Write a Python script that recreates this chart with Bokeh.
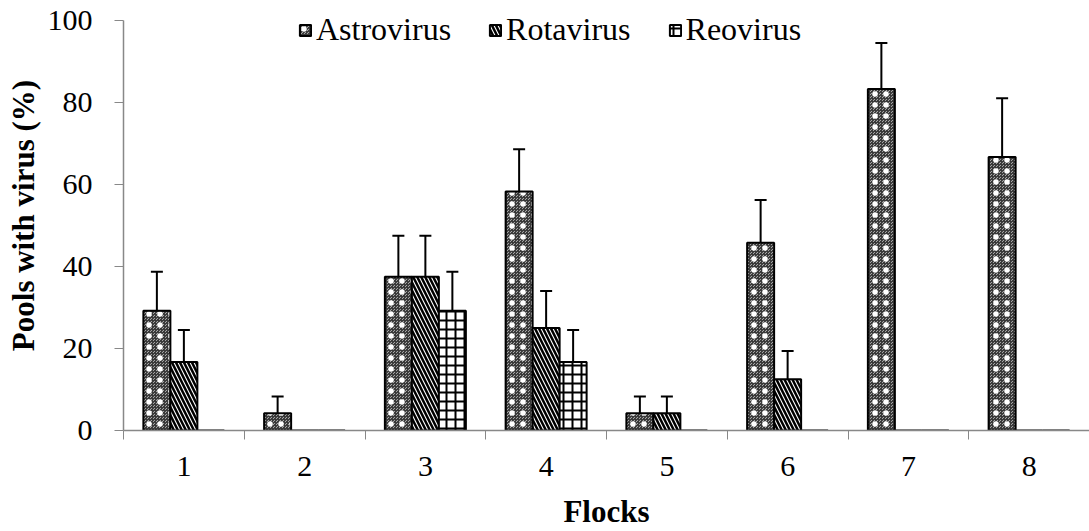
from bokeh.plotting import figure
from bokeh.models import ColumnDataSource, FixedTicker, Range1d, Whisker, TeeHead, Legend, LegendItem
from bokeh.embed import file_html
from bokeh.resources import INLINE

flocks = ["1", "2", "3", "4", "5", "6", "7", "8"]
astro = [29.2, 4.2, 37.5, 58.3, 4.2, 45.8, 83.3, 66.7]
astro_err = [9.5, 4.1, 10.0, 10.3, 4.1, 10.4, 11.2, 14.3]
rota = [16.7, 0, 37.5, 25.0, 4.2, 12.5, 0, 0]
rota_err = [7.8, 0, 10.0, 9.0, 4.1, 6.9, 0, 0]
reo = [0, 0, 29.2, 16.7, 0, 0, 0, 0]
reo_err = [0, 0, 9.5, 7.8, 0, 0, 0, 0]
series = ["Astrovirus", "Rotavirus", "Reovirus"]
y_ticks = [0, 20, 40, 60, 80, 100]

FONT = "Liberation Serif"
W = 0.2236

p = figure(width=1089, height=531, output_backend="svg", toolbar_location=None,
           x_range=Range1d(0.5, 8.5), y_range=Range1d(0, 104.87),
           min_border_left=123, min_border_right=0, min_border_top=0, min_border_bottom=100)
p.outline_line_color = None
p.grid.grid_line_color = None
p.background_fill_color = "white"

xs = list(range(1, len(flocks) + 1))
styles = [
    [dict(fill_color="#a6a6a6", hatch_pattern="criss_cross", hatch_color="#3a3a3a", hatch_scale=3, hatch_weight=1),
     dict(fill_alpha=0, hatch_pattern="dot", hatch_color="white", hatch_scale=11, hatch_weight=1)],
    [dict(fill_color="white", hatch_pattern="left_diagonal_line", hatch_color="black", hatch_scale=8, hatch_weight=2.5)],
    [dict(fill_color="white", hatch_pattern="cross", hatch_color="black", hatch_scale=9, hatch_weight=2)],
]
offsets = [-W, 0, W]
items = []
for vals, errs, name, sts, off in zip([astro, rota, reo], [astro_err, rota_err, reo_err], series, styles, offsets):
    src = ColumnDataSource(dict(x=[x + off for x in xs], top=vals))
    rs = []
    for i, st in enumerate(sts):
        lc = "black" if i == len(sts) - 1 else None
        rs.append(p.vbar(x="x", top="top", bottom=0, width=W, source=src, line_color=lc, line_width=2, **st))
    items.append(LegendItem(label=name, renderers=rs))
    esrc = ColumnDataSource(dict(x=[x + off for x, e in zip(xs, errs) if e > 0],
                                 lo=[v for v, e in zip(vals, errs) if e > 0],
                                 hi=[v + e for v, e in zip(vals, errs) if e > 0]))
    wk = Whisker(base="x", lower="lo", upper="hi", source=esrc, line_color="black", line_width=2,
                 lower_head=None, upper_head=TeeHead(size=12, line_width=2, line_color="black"))
    p.add_layout(wk)

legend = Legend(items=items, orientation="horizontal", location=(175, 382),
                label_text_font=FONT, label_text_font_size="32px", label_text_color="black",
                border_line_color=None, background_fill_alpha=0,
                glyph_width=14, glyph_height=14, spacing=37, padding=0, margin=0,
                label_standoff=4)
p.add_layout(legend)

ax = p.xaxis[0]
ax.ticker = FixedTicker(ticks=xs, minor_ticks=[x + 0.5 for x in range(0, 9)])
ax.major_label_overrides = {x: f for x, f in zip(xs, flocks)}
ax.major_tick_line_color = None
ax.minor_tick_line_color = "#888888"
ax.minor_tick_out = 9
ax.minor_tick_in = 0
ax.axis_line_color = "#888888"
ax.axis_line_width = 1.5
ax.major_label_text_font = FONT
ax.major_label_text_font_size = "30px"
ax.major_label_text_color = "black"
ax.major_label_standoff = 17
ax.axis_label = "Flocks"
ax.axis_label_text_font = FONT
ax.axis_label_text_font_style = "bold"
ax.axis_label_text_font_size = "31px"
ax.axis_label_text_color = "black"
ax.axis_label_standoff = 15

ay = p.yaxis[0]
ay.ticker = FixedTicker(ticks=y_ticks)
ay.bounds = (0, 100)
ay.major_tick_line_color = "#888888"
ay.major_tick_out = 9
ay.major_tick_in = 0
ay.minor_tick_line_color = None
ay.axis_line_color = "#888888"
ay.axis_line_width = 1.5
ay.major_label_text_font = FONT
ay.major_label_text_font_size = "30px"
ay.major_label_text_color = "black"
ay.major_label_standoff = 22
ay.axis_label = "Pools with virus (%)"
ay.axis_label_text_font = FONT
ay.axis_label_text_font_style = "bold"
ay.axis_label_text_font_size = "31px"
ay.axis_label_text_color = "black"
ay.axis_label_standoff = 4

open("out.html", "w").write(file_html(p, INLINE))
